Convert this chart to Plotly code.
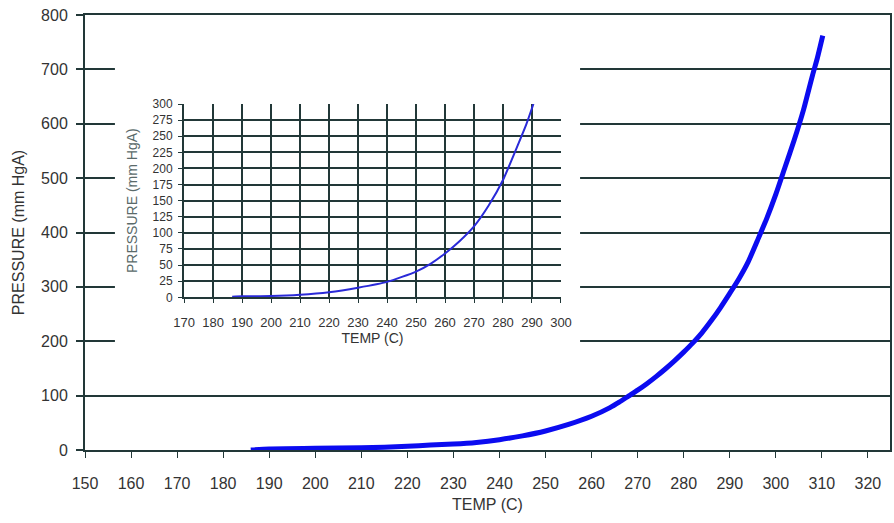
import plotly.graph_objects as go

# Main chart data (temperature in C, pressure in mm HgA)
main_temp = [186, 190, 200, 210, 215, 220, 225, 230, 235, 240, 245, 250,
             255, 260, 264, 266, 268, 270, 272, 274, 276, 278, 280, 282, 284,
             286, 288, 290, 292, 294, 296, 298, 300, 302, 304, 306, 308, 309,
             310.2]
main_press = [0, 2, 3, 4, 5, 7, 9, 11, 14, 19, 26, 35,
              47, 62, 78, 88, 99, 110, 122, 135, 149, 164, 180, 197, 216,
              238, 262, 288, 315, 346, 385, 425, 470, 520, 570, 625, 690, 720,
              762]

# Inset chart data
inset_temp = [186.6, 190, 200, 210, 220, 230, 240, 250, 255, 260, 265, 270,
              275, 280, 285, 288, 290.5]
inset_press = [1, 1.5, 2, 4, 8, 15, 24, 40, 52, 68, 87, 110,
               142, 182, 235, 268, 300]

main_xticks = list(range(150, 321, 10))
main_yticks = list(range(0, 801, 100))
inset_xticks = list(range(170, 301, 10))
inset_yticks = list(range(0, 301, 25))

FONT = "Liberation Sans, Arial, sans-serif"
GRID = "#223838"
TXT = "#333333"

fig = go.Figure()
fig.add_trace(go.Scatter(x=main_temp, y=main_press, mode="lines",
                         line=dict(color="#0b0bf0", width=5, shape="spline",
                                   smoothing=0.6),
                         xaxis="x", yaxis="y", showlegend=False))
fig.add_trace(go.Scatter(x=inset_temp, y=inset_press, mode="lines",
                         line=dict(color="#2a2ad8", width=2, shape="spline",
                                   smoothing=0.6),
                         xaxis="x2", yaxis="y2", showlegend=False))

fig.update_layout(
    width=894, height=523,
    margin=dict(l=85, r=4, t=15, b=73),
    paper_bgcolor="white", plot_bgcolor="white",
    font=dict(family=FONT, color=TXT),
    xaxis=dict(range=[150, 324.8], tickvals=main_xticks, showgrid=False,
               zeroline=False, showline=True, linecolor=GRID, linewidth=2,
               mirror=True, ticks="outside", ticklen=6, tickwidth=1,
               tickcolor=GRID, tickfont=dict(size=16, color=TXT),
               ticklabelstandoff=12, automargin=False,
               title=dict(text="TEMP (C)", font=dict(size=16, color=TXT),
                          standoff=8)),
    yaxis=dict(range=[0, 800], tickvals=main_yticks, showgrid=True,
               gridcolor=GRID, gridwidth=2, zeroline=False, showline=True,
               linecolor=GRID, linewidth=2, mirror=True, ticks="outside",
               ticklen=7, tickwidth=2, tickcolor=GRID,
               tickfont=dict(size=16, color=TXT), ticklabelstandoff=5,
               automargin=False,
               title=dict(text="PRESSURE (mm HgA)",
                          font=dict(size=16, color=TXT), standoff=12)),
    xaxis2=dict(domain=[0.123, 0.5913], anchor="y2", range=[170, 300],
                tickvals=inset_xticks, showgrid=True, gridcolor=GRID,
                gridwidth=2, zeroline=False, showline=True, linecolor=GRID,
                linewidth=2, ticks="outside", ticklen=4, tickcolor=GRID,
                tickfont=dict(size=13, color=TXT), ticklabelstandoff=8,
                automargin=False,
                title=dict(text="TEMP (C)", font=dict(size=14, color=TXT),
                           standoff=0)),
    yaxis2=dict(domain=[0.351, 0.7954], anchor="x2", range=[0, 300],
                tickvals=inset_yticks, showgrid=True, gridcolor=GRID,
                gridwidth=2, zeroline=False, showline=True, linecolor=GRID,
                linewidth=2, ticks="outside", ticklen=4, tickcolor=GRID,
                tickfont=dict(size=12, color=TXT), ticklabelstandoff=3,
                automargin=False,
                title=dict(text="PRESSURE (mm HgA)",
                           font=dict(size=14, color="#5a6a6a"), standoff=12)),
    shapes=[dict(type="rect", xref="x", yref="y", x0=156.5, x1=257.5,
                 y0=175, y1=718, fillcolor="white", line=dict(width=0),
                 layer="between")],
)

fig.write_html("out.html",
               config={"displayModeBar": False},
               post_script="document.body.style.margin='0';"
                           "document.body.style.overflow='hidden';")
